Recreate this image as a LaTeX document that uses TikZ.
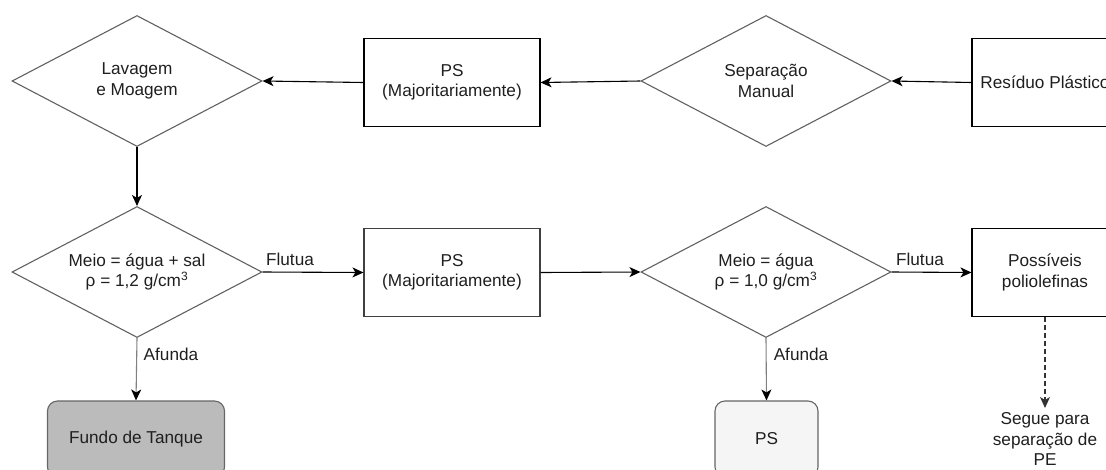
\documentclass[tikz,border=0pt]{standalone}
\usepackage{fontspec}
\setmainfont{Liberation Sans}
\usetikzlibrary{shapes.geometric,arrows.meta}
\definecolor{tankfill}{HTML}{BBBBBB}
\definecolor{psfill}{HTML}{F5F5F5}
\definecolor{edgegray}{HTML}{666666}
\begin{document}
\begin{tikzpicture}[x=1pt,y=-1pt,
  every node/.style={font=\fontsize{17.2}{20.5}\selectfont, text=black!88},
  dia/.style={diamond, draw=black!62, line width=1.1pt, aspect=1.9,
    minimum width=250pt, minimum height=131pt, inner sep=0pt, align=center},
  box/.style={rectangle, draw=black, line width=1.1pt, minimum width=176pt,
    minimum height=88pt, inner sep=0pt, align=center},
  endbox/.style={rectangle, rounded corners=10pt, draw=edgegray, line width=1.1pt,
    minimum height=76pt, inner sep=0pt, align=center},
  arr/.style={-{Stealth[length=11pt,width=10pt,inset=3pt]}, line width=1.1pt, black},
  grayarr/.style={-{Stealth[length=11pt,width=10pt,inset=3pt,color=black]}, line width=1.1pt, black!50},
  lbl/.style={inner sep=0pt}
]
\useasboundingbox (0,0) rectangle (1106,469);
\clip (0,0) rectangle (1106,469);

% row 1
\node[dia] (lav) at (137,81) {Lavagem\\e Moagem};
\node[box] (ps1) at (452,82.5) {PS\\(Majoritariamente)};
\node[dia] (sep) at (766,81) {Separação\\Manual};
\node[box, minimum width=146pt] (res) at (1045,82.5) {Resíduo Plástico};

% row 2
\node[dia] (m1) at (137,272) {Meio = água + sal\\ρ = 1,2 g/cm\textsuperscript{3}};
\node[box, draw=black!75] (ps2) at (452,272.5) {PS\\(Majoritariamente)};
\node[dia] (m2) at (766,272) {Meio = água\\ρ = 1,0 g/cm\textsuperscript{3}};
\node[box, minimum width=146pt] (pos) at (1045,272.5) {Possíveis\\poliolefinas};

% row 3
\node[endbox, fill=tankfill, minimum width=177pt] (fun) at (136,439) {Fundo de Tanque};
\node[endbox, fill=psfill, minimum width=103pt] (ps3) at (766.5,439) {PS};
\node[lbl, align=center] (seg) at (1045,439) {Segue para\\separação de\\PE};
\coordinate (segtip) at (1045,408);

% connectors
\draw[arr] (res.west) -- (sep.east);
\draw[arr] (sep.west) -- (ps1.east);
\draw[arr] (ps1.west) -- (lav.east);
\draw[arr] (lav.south) -- (m1.north);
\draw[arr] (m1.east) -- (ps2.west);
\draw[arr] (ps2.east) -- (m2.west);
\draw[arr] (m2.east) -- (pos.west);
\draw[grayarr] (m1.south) -- (fun.north);
\draw[grayarr] (m2.south) -- (ps3.north);
\draw[arr, dash pattern=on 5pt off 3pt, black!80] (pos.south) -- (segtip);

% labels
\node[lbl] (fl1) at (290,259) {Flutua};
\node[lbl] (fl2) at (920,259) {Flutua};
\node[lbl] (af1) at (171,354) {Afunda};
\node[lbl] (af2) at (801,354) {Afunda};
\end{tikzpicture}
\end{document}
